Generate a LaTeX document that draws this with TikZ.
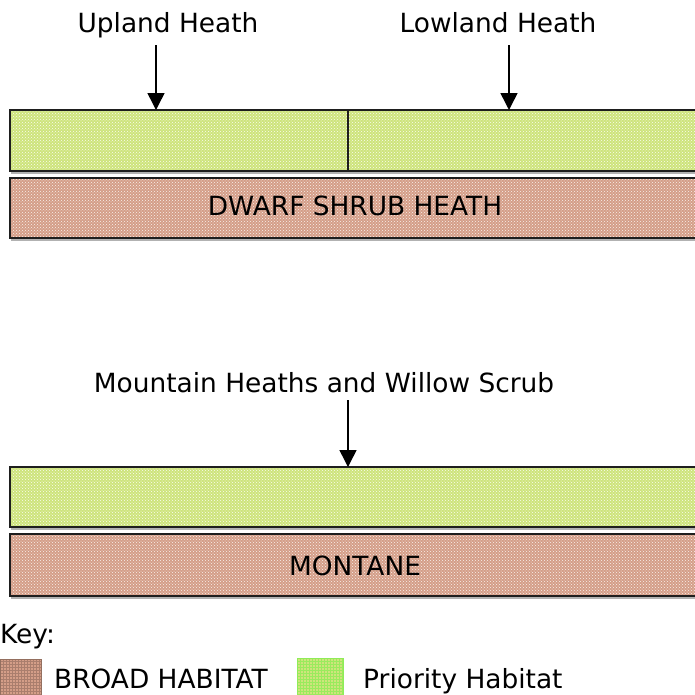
\documentclass[tikz,border=0pt]{standalone}
\usepackage{fontspec}
\setmainfont{DejaVu Sans}
\usetikzlibrary{arrows.meta,patterns}
\definecolor{prio}{RGB}{206,228,124}
\definecolor{broad}{RGB}{212,158,136}
\definecolor{edge}{RGB}{30,30,30}
\tikzset{
  lbl/.style={font=\fontsize{26.4}{30}\selectfont, inner sep=0pt, anchor=base},
  gbox/.style={fill=prio, anchor=north west, inner sep=0pt,
    postaction={pattern=crosshatch dots, pattern color=white!90!prio},
    postaction={draw=edge, line width=1.5pt}},
  bbox/.style={fill=broad, anchor=north west, inner sep=0pt,
    postaction={pattern=crosshatch dots, pattern color=white!85!broad},
    postaction={draw=edge, line width=1.5pt}},
  arr/.style={line width=1.5pt, -{Triangle[width=17pt,length=17pt]}},
  shadow/.style={draw=black!30, line width=1.5pt},
}
\begin{document}
\begin{tikzpicture}[x=1pt,y=-1pt]
\useasboundingbox (0,0) rectangle (695,694);
\clip (0,0) rectangle (695,694);
% top group
\node[lbl] (up) at (168,32) {Upland Heath};
\node[lbl] (low) at (498,32) {Lowland Heath};
\draw[shadow] (11,173) -- (700,173);
\node[gbox, minimum width=338pt, minimum height=61pt] (g1l) at (10,110) {};
\node[gbox, minimum width=352pt, minimum height=61pt] (g1r) at (348,110) {};
\draw[shadow] (11,240) -- (700,240);
\node[bbox, minimum width=690pt, minimum height=60pt] (b1) at (10,178) {};
\node[lbl] (b1t) at (355,215) {DWARF SHRUB HEATH};
\coordinate (upA) at (156,45);
\coordinate (lowA) at (509,45);
\draw[arr] (upA) -- (upA |- g1l.north);
\draw[arr] (lowA) -- (lowA |- g1r.north);
% bottom group
\node[lbl] (mt) at (324,392) {Mountain Heaths and Willow Scrub};
\draw[shadow] (11,529) -- (700,529);
\node[gbox, minimum width=690pt, minimum height=60pt] (g2) at (10,467) {};
\draw[shadow] (11,598) -- (700,598);
\node[bbox, minimum width=690pt, minimum height=62pt] (b2) at (10,534) {};
\node[lbl] (b2t) at (355,575) {MONTANE};
\coordinate (mtA) at (348,400);
\draw[arr] (mtA) -- (mtA |- g2.north);
% key
\node[lbl, anchor=base west] (key) at (0,643) {Key:};
\node[fill=broad, anchor=north west, minimum width=41pt, minimum height=45pt, inner sep=0pt,
  postaction={pattern=grid, pattern color=broad!80!black},
  postaction={draw=broad!70!black, line width=1pt}] (ks1) at (0,659) {};
\node[lbl, anchor=base west] (kt1) at (54,688) {BROAD HABITAT};
\node[fill=prio, anchor=north west, minimum width=46pt, minimum height=45pt, inner sep=0pt,
  postaction={pattern=grid, pattern color=prio!75!green},
  postaction={draw=prio!70!green, line width=1pt}] (ks2) at (297,658) {};
\node[lbl, anchor=base west] (kt2) at (363,688) {Priority Habitat};
\end{tikzpicture}
\end{document}
